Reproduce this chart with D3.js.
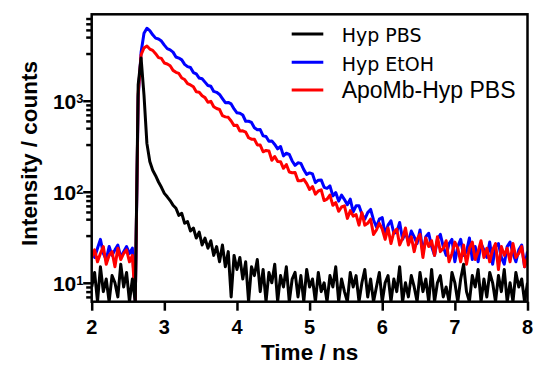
<!DOCTYPE html>
<html><head><meta charset="utf-8">
<script src="https://cdn.jsdelivr.net/npm/d3@7"></script>
<style>body{margin:0;background:#fff}</style>
</head><body><svg id="c" width="533" height="365"></svg>
<script>
// TCSPC channels: start time and channel width (ns)
const channelStart = 2.0, channelWidth = 0.04;
const xTicks = [2, 3, 4, 5, 6, 7, 8];
const yMajorTicks = [10, 100, 1000];
const yMinorMultiples = [3.3, 5, 6, 7, 8, 9];
const seriesNames = ["Hyp PBS", "Hyp EtOH", "ApoMb-Hyp PBS"];
const seriesColors = ["#000000", "#0000ff", "#ff0000"];

const hypPBS = [9,13,6,15,8,11,4,12,10,7,16,9,13,5,11,3,1500,2940,1150,340,
215,172,150,128,112,96,88,80,71,66,55,58,45,47,37,40,31,36,26,31,
24,29,20,25,17,26,15,22,7,20,14,19,11,17,5,15,12,18,8,14,
4,13,10,16,6,12,9,15,5,11,13,7,12,4,14,9,11,5,13,8,
10,3,12,9,15,6,11,8,4,13,9,12,5,10,14,7,11,3,9,13,
6,10,12,4,11,8,15,5,10,7,12,9,4,13,8,11,6,14,5,10,
12,7,9,3,13,10,6,11,16,8,5,12,9,14,4,11,7,13,10,5,
12,8,14,6,10,4,13,9,11,6,10];

const hypEtOH = [22,19,24,30,21,18,25,20,23,26,19,22,25,21,24,5,1100,3400,5500,6250,
5890,5300,4870,4760,4525,4080,3735,3615,3420,3020,2940,2810,2510,2370,2320,2040,1970,1775,1745,1600,
1470,1440,1265,1237,1172,1056,953,958,922,813,737,730,697,595,595,577,504,479,482,411,
405,359,362,331,296,314,248,265,258,218,195,208,205,175,155,161,157,126,134,135,
112,109,116,90,98,79,92,82,72,83,60,70,70,57,50,59,64,49,41,50,
52,34,43,48,35,36,46,30,36,28,37,32,27,38,21,32,35,25,20,30,
34,25,20,27,30,17,25,30,20,22,31,18,25,17,27,23,19,28,16,25,
27,19,16,25,28,21,17,23,26,15,22];

const apoMbHypPBS = [19,23,17,21,25,16,20,22,15,24,18,21,23,17,20,5,1200,3200,3800,3990,
3697,3573,3286,2977,2915,2594,2535,2420,2155,2053,1994,1777,1710,1541,1491,1424,1253,1240,1133,1082,
963,985,860,821,801,686,665,657,599,533,538,465,467,452,392,378,377,327,326,275,
284,281,222,244,215,214,181,199,165,162,163,132,132,137,123,106,114,94,102,105,
80,83,92,71,76,61,68,70,51,62,54,56,43,59,43,45,50,34,38,45,
39,30,40,27,36,39,26,31,40,26,32,22,30,34,19,31,25,29,20,32,
22,24,29,17,21,28,24,17,26,16,24,28,18,22,29,19,24,17,23,27,
14,25,20,24,17,27,19,21,25,15,19];

const series = [
  {name: seriesNames[1], color: seriesColors[1], values: hypEtOH},
  {name: seriesNames[2], color: seriesColors[2], values: apoMbHypPBS},
  {name: seriesNames[0], color: seriesColors[0], values: hypPBS}
];

const svg = d3.select("#c");
svg.append("rect").attr("width", 533).attr("height", 365).attr("fill", "#fff");

const pL = 91.7, pR = 527.5, pT = 14.3, pB = 301.7;
const x = d3.scaleLinear().domain([2, 8]).range([pL, pR]);
const y = d3.scaleLog().domain([6.2, 8900]).range([pB, pT]).clamp(true);

svg.append("clipPath").attr("id", "plotclip")
  .append("rect").attr("x", pL).attr("y", pT).attr("width", pR - pL).attr("height", pB - pT);

const line = d3.line()
  .x((d, i) => x(channelStart + i * channelWidth))
  .y(d => y(d));

const g = svg.append("g").attr("clip-path", "url(#plotclip)");
series.forEach(s => {
  g.append("path").datum(s.values)
    .attr("d", line)
    .attr("fill", "none")
    .attr("stroke", s.color)
    .attr("stroke-width", 3)
    .attr("stroke-linejoin", "round");
});

// frame
svg.append("rect").attr("x", pL).attr("y", pT).attr("width", pR - pL).attr("height", pB - pT)
  .attr("fill", "none").attr("stroke", "#000").attr("stroke-width", 2.5);

// x axis
const xAxis = svg.append("g").attr("transform", `translate(0,${pB})`)
  .call(d3.axisBottom(x).tickValues(xTicks).tickSize(9).tickFormat(""));
xAxis.select(".domain").remove();
xAxis.selectAll(".tick line").attr("stroke-width", 2.5);
svg.selectAll(".xlab").data(xTicks).enter().append("text")
  .attr("x", d => x(d)).attr("y", 334)
  .attr("text-anchor", "middle")
  .attr("font-family", "Liberation Sans, Arial, sans-serif")
  .attr("font-weight", "bold").attr("font-size", 20)
  .text(d => d);

// y axis
const minors = [];
[1, 10, 100, 1000].forEach(dec => yMinorMultiples.forEach(k => { const v = dec * k; if (v >= 6.2 && v <= 8900) minors.push(v); }));
const yMinor = svg.append("g").attr("transform", `translate(${pL},0)`)
  .call(d3.axisLeft(y).tickValues(minors).tickSize(5.5).tickFormat(""));
yMinor.select(".domain").remove();
yMinor.selectAll(".tick line").attr("stroke-width", 2.5);
const yMajor = svg.append("g").attr("transform", `translate(${pL},0)`)
  .call(d3.axisLeft(y).tickValues(yMajorTicks).tickSize(8.5).tickFormat(""));
yMajor.select(".domain").remove();
yMajor.selectAll(".tick line").attr("stroke-width", 2.5);

const ylab = svg.selectAll(".ylab").data(yMajorTicks).enter().append("text")
  .attr("x", 83.5).attr("y", d => y(d) + 8.5)
  .attr("text-anchor", "end")
  .attr("font-family", "Liberation Sans, Arial, sans-serif")
  .attr("font-weight", "bold").attr("font-size", 21);
ylab.append("tspan").text("10");
ylab.append("tspan").attr("font-size", 13).attr("dy", -6.5).text(d => Math.round(Math.log10(d)));

// axis titles
svg.append("text").attr("x", (pL + pR) / 2).attr("y", 359.5)
  .attr("text-anchor", "middle")
  .attr("font-family", "Liberation Sans, Arial, sans-serif")
  .attr("font-weight", "bold").attr("font-size", 22.5)
  .text("Time / ns");
svg.append("text").attr("transform", "translate(37,153.5) rotate(-90)")
  .attr("text-anchor", "middle")
  .attr("font-family", "Liberation Sans, Arial, sans-serif")
  .attr("font-weight", "bold").attr("font-size", 22.5)
  .text("Intensity / counts");

// legend
const legendRows = [
  {name: seriesNames[0], color: seriesColors[0], ly: 34, ty: 42.3, font: "DejaVu Sans, sans-serif", size: 19},
  {name: seriesNames[1], color: seriesColors[1], ly: 62.3, ty: 71, font: "DejaVu Sans, sans-serif", size: 19},
  {name: seriesNames[2], color: seriesColors[2], ly: 90, ty: 97.5, font: "Liberation Sans, Arial, sans-serif", size: 23}
];
legendRows.forEach(r => {
  svg.append("line").attr("x1", 291.7).attr("x2", 323.3).attr("y1", r.ly).attr("y2", r.ly)
    .attr("stroke", r.color).attr("stroke-width", 3);
  svg.append("text").attr("x", 341.7).attr("y", r.ty)
    .attr("font-family", r.font).attr("font-size", r.size).attr("fill", "#000")
    .text(r.name);
});
</script></body></html>
